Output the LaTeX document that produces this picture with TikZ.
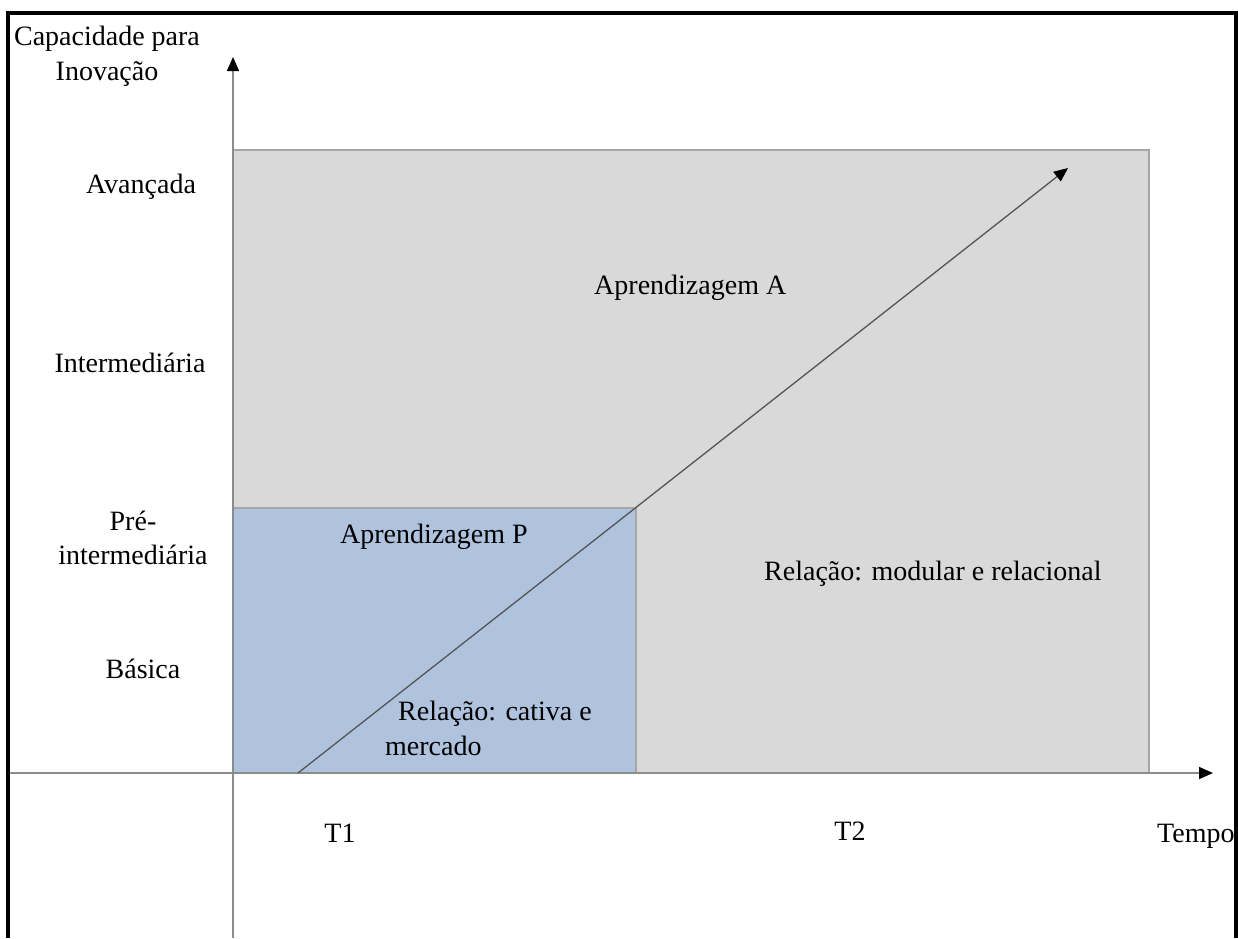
\documentclass[tikz,border=0pt]{standalone}
\usepackage{fontspec}
\setmainfont{Liberation Serif}
\usetikzlibrary{arrows.meta}
\definecolor{panelgrey}{HTML}{D9D9D9}
\definecolor{panelblue}{HTML}{B0C3DE}
\definecolor{edgegrey}{HTML}{A6A6A6}
\definecolor{axisgrey}{HTML}{8C8C8C}
\definecolor{diaggrey}{HTML}{555555}
\begin{document}
\begin{tikzpicture}[x=1pt,y=-1pt,
  lbl/.style={inner sep=0pt, font=\fontsize{28}{35}\selectfont, anchor=base},
  lblw/.style={lbl, anchor=base west},
  region/.style={draw=edgegrey, line width=2pt, inner sep=0pt, outer sep=0pt},
  axisline/.style={draw=axisgrey, line width=1.5pt},
  blacktip/.style={-{Triangle[length=14pt,width=12pt,color=black]}},
  diagline/.style={draw=diaggrey, line width=1.3pt}
]
\useasboundingbox (0,0) rectangle (1238,938);
\fill[white] (0,0) rectangle (1238,938);

% learning regions
\node[region, fill=panelgrey, minimum width=916pt, minimum height=623pt,
      anchor=north west] (regA) at (233,150) {};
\node[region, fill=panelblue, minimum width=403pt, minimum height=265pt,
      anchor=south west] (regP) at (233,773) {};

% axes
\coordinate (ybot) at (233,938);
\coordinate (ytop) at (233,57);
\coordinate (xleft) at (8,773);
\coordinate (xright) at (1213,773);
\draw[axisline, blacktip] (ybot) -- (ytop);
\draw[axisline, blacktip] (xleft) -- (xright);

% learning trajectory
\coordinate (d0) at (298,773);
\coordinate (d1) at (1068,168);
\draw[diagline, blacktip] (d0) -- (d1);

% vertical axis labels
\node[lbl] (cap1) at (107,45) {Capacidade para};
\node[lbl] (cap2) at (107,80) {Inovação};
\node[lbl] (lav) at (141,193) {Avançada};
\node[lbl] (lint) at (130,372) {Intermediária};
\node[lbl] (lpre1) at (133,530) {Pré-};
\node[lbl] (lpre2) at (133,564) {intermediária};
\node[lbl] (lbas) at (143,678) {Básica};

% region labels
\node[lblw] (apA) at (594,294) {Aprendizagem A};
\node[lblw] (apP) at (340,543) {Aprendizagem P};
\node[lblw] (rel1a) at (398,720) {Relação: cativa e};
\node[lblw] (rel1b) at (385,755) {mercado};
\node[lblw] (rel2) at (764,580) {Relação: modular e relacional};

% horizontal axis labels
\node[lbl] (t1) at (340,842) {T1};
\node[lbl] (t2) at (850,840) {T2};
\node[lblw] (tempo) at (1157,842) {Tempo};

% frame
\draw[line width=4pt, black, line join=miter] (8,938) -- (8,13) -- (1236,13) -- (1236,938);
\end{tikzpicture}
\end{document}
